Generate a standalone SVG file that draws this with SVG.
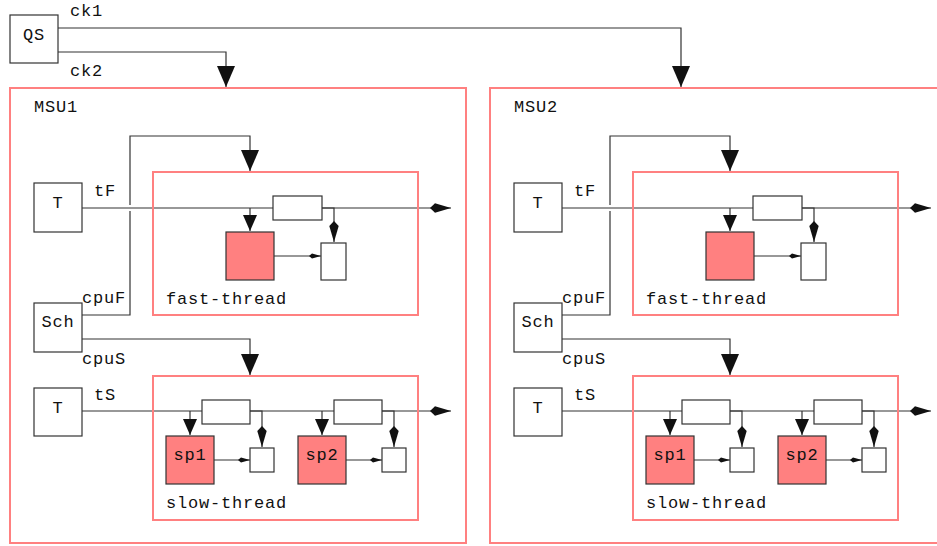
<svg xmlns="http://www.w3.org/2000/svg" width="937" height="546" viewBox="0 0 937 546">
<style>
.box{fill:#fff;stroke:#333;stroke-width:1.2}
.red{fill:#ff8080;stroke:#333;stroke-width:1.2}
.frame{fill:none;stroke:#ff8080;stroke-width:2}
.ln{fill:none;stroke:#333;stroke-width:1.2}
.t{font-family:"Liberation Mono","DejaVu Sans Mono",monospace;font-size:17px;fill:#111;letter-spacing:0.8px}
.c{text-anchor:middle}
</style>
<defs>
<marker id="tri" viewBox="0 -9 21 18" refX="21" refY="0" markerWidth="21" markerHeight="18" markerUnits="userSpaceOnUse" orient="auto"><path d="M0,-9 L21,0 L0,9 z" fill="#111"/></marker>
<marker id="tri2" viewBox="0 -7 16 14" refX="16" refY="0" markerWidth="16" markerHeight="14" markerUnits="userSpaceOnUse" orient="auto"><path d="M0,-7 L16,0 L0,7 z" fill="#111"/></marker>
<marker id="kite" viewBox="0 -5 21 10" refX="21" refY="0" markerWidth="21" markerHeight="10" markerUnits="userSpaceOnUse" orient="auto"><path d="M0,0 L5,-4.7 L21,0 L5,4.7 z" fill="#111"/></marker>
<marker id="kites" viewBox="0 -3 12 6" refX="12" refY="0" markerWidth="12" markerHeight="6" markerUnits="userSpaceOnUse" orient="auto"><path d="M0,0 L3,-2.5 L12,0 L3,2.5 z" fill="#111"/></marker>
</defs>
<rect width="937" height="546" fill="#fff"/>

<g id="connectors">
<path class="ln" d="M58,28 H681 V87" marker-end="url(#tri)"/>
<path class="ln" d="M58,52 H226 V87" marker-end="url(#tri)"/>
<g id="msu1-conn">
<path class="ln" d="M82,315 H130 V211 M130,205 V136 H250 V171" marker-end="url(#tri)"/>
<path class="ln" d="M82,339 H250 V375" marker-end="url(#tri)"/>
<path class="ln" d="M82,208 H273"/>
<path class="ln" d="M322,208 H451" marker-end="url(#kite)"/>
<path class="ln" d="M250,208 V231" marker-end="url(#tri2)"/>
<path class="ln" d="M322,208 H334 V242" marker-end="url(#kite)"/>
<path class="ln" d="M274,256 H321" marker-end="url(#kites)"/>
<path class="ln" d="M82,411 H202"/>
<path class="ln" d="M250,411 H334"/>
<path class="ln" d="M382,411 H451" marker-end="url(#kite)"/>
<path class="ln" d="M190,411 V435" marker-end="url(#tri2)"/>
<path class="ln" d="M322,411 V435" marker-end="url(#tri2)"/>
<path class="ln" d="M250,411 H262 V447" marker-end="url(#kite)"/>
<path class="ln" d="M382,411 H394 V447" marker-end="url(#kite)"/>
<path class="ln" d="M214,460 H250" marker-end="url(#kites)"/>
<path class="ln" d="M346,460 H382" marker-end="url(#kites)"/>
</g>
<g id="msu2-conn" transform="translate(480,0)">
<path class="ln" d="M82,315 H130 V211 M130,205 V136 H250 V171" marker-end="url(#tri)"/>
<path class="ln" d="M82,339 H250 V375" marker-end="url(#tri)"/>
<path class="ln" d="M82,208 H273"/>
<path class="ln" d="M322,208 H451" marker-end="url(#kite)"/>
<path class="ln" d="M250,208 V231" marker-end="url(#tri2)"/>
<path class="ln" d="M322,208 H334 V242" marker-end="url(#kite)"/>
<path class="ln" d="M274,256 H321" marker-end="url(#kites)"/>
<path class="ln" d="M82,411 H202"/>
<path class="ln" d="M250,411 H334"/>
<path class="ln" d="M382,411 H451" marker-end="url(#kite)"/>
<path class="ln" d="M190,411 V435" marker-end="url(#tri2)"/>
<path class="ln" d="M322,411 V435" marker-end="url(#tri2)"/>
<path class="ln" d="M250,411 H262 V447" marker-end="url(#kite)"/>
<path class="ln" d="M382,411 H394 V447" marker-end="url(#kite)"/>
<path class="ln" d="M214,460 H250" marker-end="url(#kites)"/>
<path class="ln" d="M346,460 H382" marker-end="url(#kites)"/>
</g>
</g>

<g id="QS">
<rect class="box" x="10" y="15" width="48" height="48"/>
<text class="t c" x="34" y="40">QS</text>
</g>
<text class="t" x="70" y="16">ck1</text>
<text class="t" x="70" y="76">ck2</text>

<g id="MSU1">
<rect class="frame" x="10" y="88" width="456" height="455"/>
<text class="t" x="34" y="111.5">MSU1</text>
<g id="msu1-T-fast"><rect class="box" x="34" y="183" width="48" height="49"/><text class="t c" x="58" y="208">T</text></g>
<text class="t" x="94" y="195.5">tF</text>
<g id="msu1-Sch"><rect class="box" x="34" y="303" width="48" height="49"/><text class="t c" x="58" y="327">Sch</text></g>
<text class="t" x="82" y="303">cpuF</text>
<text class="t" x="82" y="364">cpuS</text>
<g id="msu1-T-slow"><rect class="box" x="34" y="388" width="48" height="48"/><text class="t c" x="58" y="412.5">T</text></g>
<text class="t" x="94" y="400">tS</text>
<g id="msu1-fast-thread">
<rect class="frame" x="153" y="172" width="265" height="143"/>
<text class="t" x="166" y="304">fast-thread</text>
<rect class="box" x="273" y="196" width="49" height="24"/>
<rect class="red" x="226" y="232" width="48" height="48"/>
<rect class="box" x="321" y="243" width="25" height="37"/>
</g>
<g id="msu1-slow-thread">
<rect class="frame" x="153" y="376" width="265" height="144"/>
<text class="t" x="166" y="508">slow-thread</text>
<rect class="box" x="202" y="400" width="48" height="24"/>
<rect class="box" x="334" y="400" width="48" height="24"/>
<g id="msu1-sp1"><rect class="red" x="166" y="436" width="48" height="48"/><text class="t c" x="190" y="460">sp1</text></g>
<g id="msu1-sp2"><rect class="red" x="298" y="436" width="48" height="48"/><text class="t c" x="322" y="460">sp2</text></g>
<rect class="box" x="250" y="448" width="24" height="24"/>
<rect class="box" x="382" y="448" width="24" height="24"/>
</g>
</g>

<g id="MSU2" transform="translate(480,0)">
<rect class="frame" x="10" y="88" width="456" height="455"/>
<text class="t" x="34" y="111.5">MSU2</text>
<g id="msu2-T-fast"><rect class="box" x="34" y="183" width="48" height="49"/><text class="t c" x="58" y="208">T</text></g>
<text class="t" x="94" y="195.5">tF</text>
<g id="msu2-Sch"><rect class="box" x="34" y="303" width="48" height="49"/><text class="t c" x="58" y="327">Sch</text></g>
<text class="t" x="82" y="303">cpuF</text>
<text class="t" x="82" y="364">cpuS</text>
<g id="msu2-T-slow"><rect class="box" x="34" y="388" width="48" height="48"/><text class="t c" x="58" y="412.5">T</text></g>
<text class="t" x="94" y="400">tS</text>
<g id="msu2-fast-thread">
<rect class="frame" x="153" y="172" width="265" height="143"/>
<text class="t" x="166" y="304">fast-thread</text>
<rect class="box" x="273" y="196" width="49" height="24"/>
<rect class="red" x="226" y="232" width="48" height="48"/>
<rect class="box" x="321" y="243" width="25" height="37"/>
</g>
<g id="msu2-slow-thread">
<rect class="frame" x="153" y="376" width="265" height="144"/>
<text class="t" x="166" y="508">slow-thread</text>
<rect class="box" x="202" y="400" width="48" height="24"/>
<rect class="box" x="334" y="400" width="48" height="24"/>
<g id="msu2-sp1"><rect class="red" x="166" y="436" width="48" height="48"/><text class="t c" x="190" y="460">sp1</text></g>
<g id="msu2-sp2"><rect class="red" x="298" y="436" width="48" height="48"/><text class="t c" x="322" y="460">sp2</text></g>
<rect class="box" x="250" y="448" width="24" height="24"/>
<rect class="box" x="382" y="448" width="24" height="24"/>
</g>
</g>
</svg>
